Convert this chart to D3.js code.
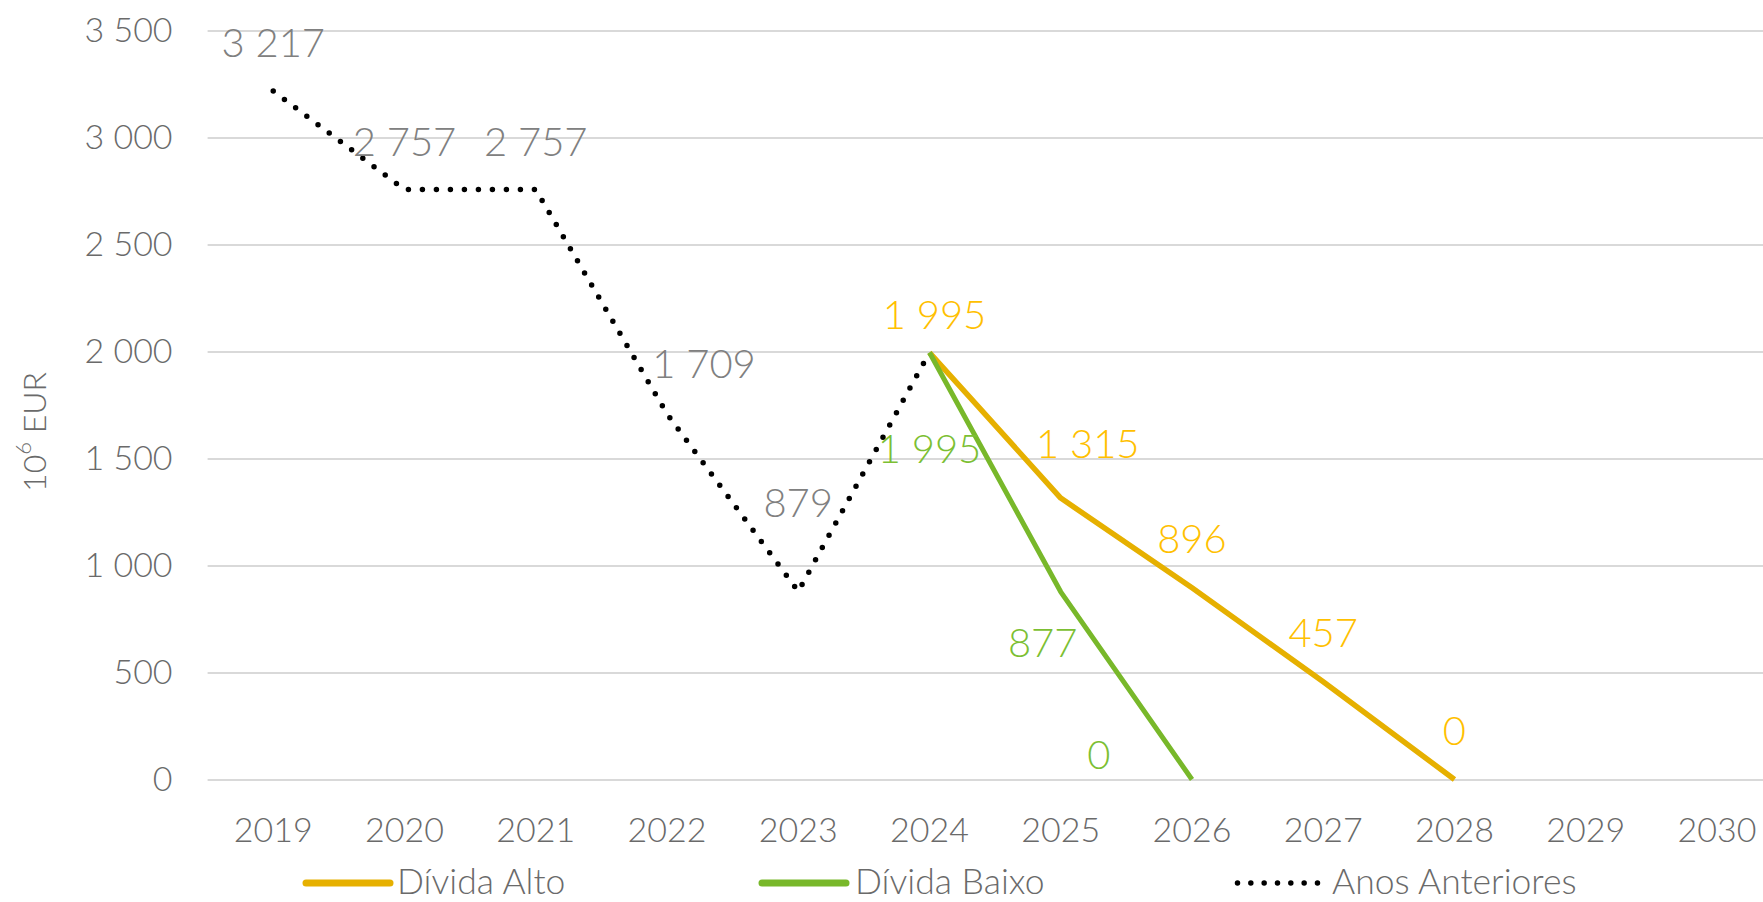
<!DOCTYPE html>
<html>
<head>
<meta charset="utf-8">
<script src="https://cdn.jsdelivr.net/npm/d3@7"></script>
<style>
  html, body { margin: 0; padding: 0; background: #ffffff; }
  svg { display: block; }
  text { font-family: Lato, "Open Sans", sans-serif; }
</style>
</head>
<body>
<svg id="chart" width="1763" height="902"></svg>
<script>
// ---- data ----
const years = ["2019","2020","2021","2022","2023","2024","2025","2026","2027","2028","2029","2030"];
const anosYears = ["2019","2020","2021","2022","2023","2024"];
const anosValues = [3217, 2757, 2757, 1709, 879, 1995];
const altoYears = ["2024","2025","2026","2027","2028"];
const altoValues = [1995, 1315, 896, 457, 0];
const baixoYears = ["2024","2025","2026"];
const baixoValues = [1995, 877, 0];
const yTicks = [0, 500, 1000, 1500, 2000, 2500, 3000, 3500];
const seriesNames = ["Dívida Alto", "Dívida Baixo", "Anos Anteriores"];

// ---- label placement (layout, px offsets from point) ----
const anosLabelOffsets = [[0,-34],[0,-34],[0,-34],[37,-36],[0,-74],null];
const altoLabelOffsets = [[5,-24],[27,-40],[0,-35],[0,-35],[0,-35]];
const baixoLabelOffsets = [[0,110],[-18,65],[-93,-11]];

// ---- layout ----
const plotLeft = 207.6, bandStep = 131.25;
const plotRight = plotLeft + bandStep * years.length;
const plotTop = 30.5, plotBottom = 779.5;

const svg = d3.select("#chart");
const loc = d3.formatLocale({decimal: ",", thousands: " ", grouping: [3], currency: ["", "€"]});
const fmt = loc.format(",d");

const x = d3.scaleBand().domain(years).range([plotLeft, plotRight]).padding(0);
const cx = d => x(d) + x.bandwidth() / 2;
const y = d3.scaleLinear().domain([0, 3500]).range([plotBottom, plotTop]);

const colAlto = "#e6b000", colAltoLbl = "#ffc000";
const colBaixo = "#78b82a", colBaixoLbl = "#7cbf33";
const colGrid = "#d9d9d9", colAxis = "#6a6a6a", colGrayLbl = "#808080";

// gridlines + y labels
const yAxis = d3.axisLeft(y).tickValues(yTicks).tickFormat(fmt).tickSize(-(plotRight - plotLeft)).tickPadding(35);
const gy = svg.append("g").attr("transform", `translate(${plotLeft},0)`).call(yAxis);
gy.select(".domain").remove();
gy.selectAll(".tick line").attr("stroke", colGrid).attr("stroke-width", 2);
gy.selectAll(".tick text").attr("fill", colAxis).attr("font-size", 34).attr("font-family", "Lato, sans-serif").attr("font-weight", 300);

// x labels
const xAxis = d3.axisBottom(x).tickSize(0).tickPadding(0);
const gx = svg.append("g").attr("transform", `translate(0,${plotBottom})`).call(xAxis);
gx.select(".domain").remove();
gx.selectAll(".tick text").attr("fill", colAxis).attr("font-size", 34).attr("font-family", "Lato, sans-serif").attr("font-weight", 300)
  .attr("dy", null).attr("y", 62.5);

// y axis title
const yt = svg.append("text").attr("transform", "translate(33,432) rotate(-90)")
  .attr("text-anchor", "middle").attr("dominant-baseline", "central")
  .attr("fill", colAxis).attr("font-size", 32).attr("font-weight", 300);
yt.append("tspan").text("10");
yt.append("tspan").attr("font-size", 22).attr("dy", -11).text("6");
yt.append("tspan").attr("dy", 11).text(" EUR");

const line = d3.line().x(d => cx(d.year)).y(d => y(d.value));
const zipS = (ys, vs) => ys.map((yr, i) => ({year: yr, value: vs[i]}));

const alto = zipS(altoYears, altoValues);
const baixo = zipS(baixoYears, baixoValues);
const anos = zipS(anosYears, anosValues);

svg.append("path").datum(alto).attr("d", line).attr("fill", "none")
  .attr("stroke", colAlto).attr("stroke-width", 5.5).attr("stroke-linejoin", "round");
svg.append("path").datum(baixo).attr("d", line).attr("fill", "none")
  .attr("stroke", colBaixo).attr("stroke-width", 5).attr("stroke-linejoin", "round");
svg.append("path").datum(anos).attr("d", line).attr("fill", "none")
  .attr("stroke", "#000").attr("stroke-width", 5.5).attr("stroke-linecap", "round")
  .attr("stroke-dasharray", "0 14");

function labels(data, offs, color) {
  svg.append("g").selectAll("text").data(data.filter((d, i) => offs[i])).join("text")
    .attr("x", d => cx(d.year) + offs[data.indexOf(d)][0])
    .attr("y", d => y(d.value) + offs[data.indexOf(d)][1])
    .attr("text-anchor", "middle")
    .attr("fill", color).attr("font-size", 40).attr("font-weight", 300)
    .text(d => fmt(d.value));
}
labels(anos, anosLabelOffsets, colGrayLbl);
labels(alto, altoLabelOffsets, colAltoLbl);
labels(baixo, baixoLabelOffsets, colBaixoLbl);

// legend
const legendItems = [
  {name: seriesNames[0], x0: 306, x1: 390, tx: 397, color: colAlto, dash: null},
  {name: seriesNames[1], x0: 762, x1: 846, tx: 855, color: colBaixo, dash: null},
  {name: seriesNames[2], x0: 1237.5, x1: 1317.5, tx: 1332, color: "#000", dash: "0 13.33"}
];
const lg = svg.append("g");
legendItems.forEach(it => {
  const ln = lg.append("line").attr("x1", it.x0).attr("x2", it.x1).attr("y1", 883).attr("y2", 883)
    .attr("stroke", it.color).attr("stroke-linecap", "round");
  if (it.dash) ln.attr("stroke-width", 5.5).attr("stroke-dasharray", it.dash);
  else ln.attr("stroke-width", 7);
  lg.append("text").attr("x", it.tx).attr("y", 894).attr("fill", colAxis)
    .attr("font-size", 35.5).attr("font-weight", 300).text(it.name);
});
</script>
</body>
</html>
